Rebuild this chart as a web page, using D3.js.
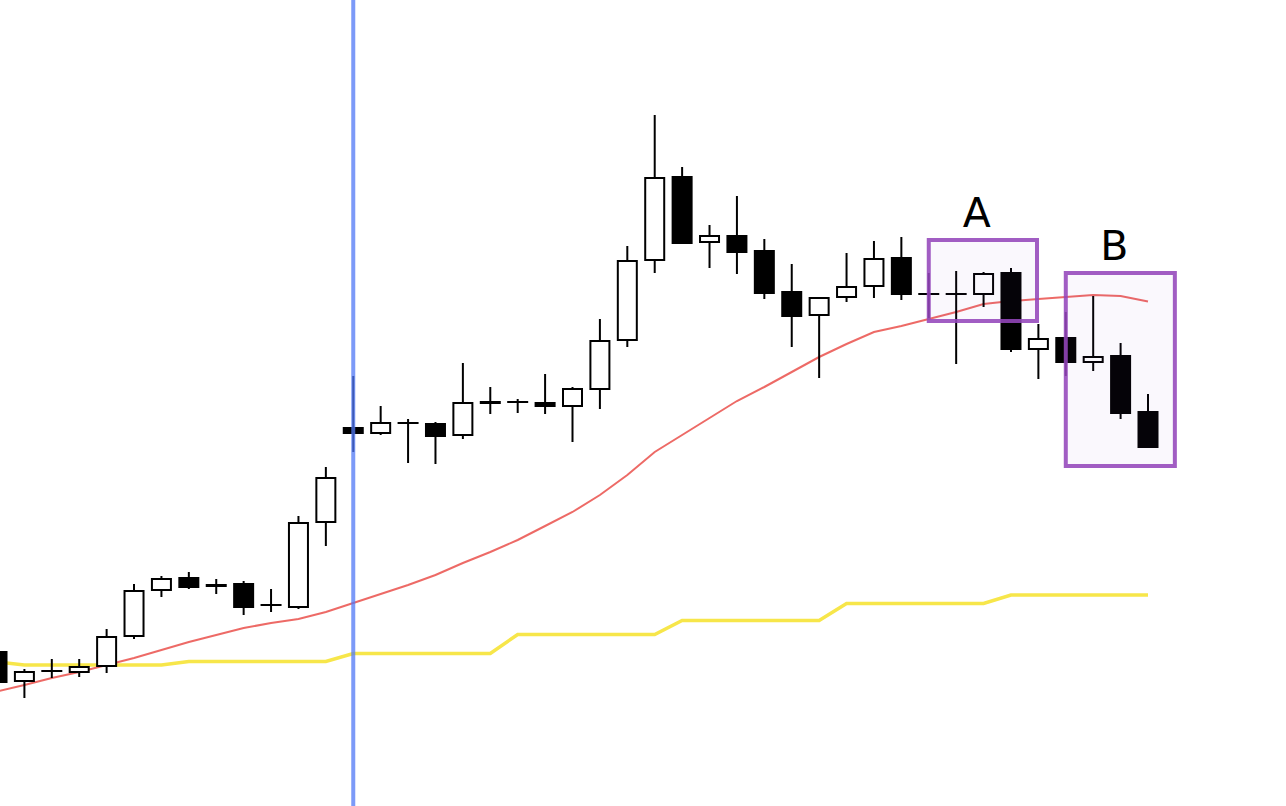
<!DOCTYPE html>
<html>
<head>
<meta charset="utf-8">
<script src="https://cdn.jsdelivr.net/npm/d3@7"></script>
<style>
  html, body { margin: 0; padding: 0; background: #fff; }
  svg { display: block; }
</style>
</head>
<body>
<svg id="canvas"></svg>
<script>
"use strict"

const width = 1286
const height = 806

// candles
const opens  = [154,125,135,134,140,170,216,228,221,222,201,199,284,378,373,383,382,371,403,404,403,400,417,466,546,629,564,570,555,514,491,509,520,548,512,512,512,533,457,468,444,450,394]
const highs  = [156,137,147,147,177,222,230,234,227,225,217,290,339,430,400,387,384,443,419,407,432,419,487,560,691,639,581,610,567,542,509,553,565,569,533,535,534,538,482,494,510,463,412]
const lows   = [122,108,128,129,133,167,209,217,212,191,194,197,260,354,371,343,342,367,392,393,392,364,397,459,533,563,538,532,507,459,428,504,508,506,488,442,499,454,427,430,435,387,358]
const closes = [124,134,135,139,169,215,227,219,220,199,201,283,328,373,383,383,370,403,404,404,400,417,465,545,628,563,570,554,513,490,508,519,547,512,512,512,532,457,467,444,449,393,359]

// moving average (red) and step level (yellow)
const maValues = [114.5,121,128,134,141,148,156,164,171,178,183,187,194,203,212,221,231,243,254,266,280,294,311,331,354,371,388,405,419,434,449,462,474,480,487,494,502,505,507,509,511,510,504.5]
const levelValues = [144,141,141,141,141,141,141,144.5,144.5,144.5,144.5,144.5,144.5,152.5,152.5,152.5,152.5,152.5,152.5,171.5,171.5,171.5,171.5,171.5,171.5,185.5,185.5,185.5,185.5,185.5,185.5,202.5,202.5,202.5,202.5,202.5,202.5,211,211,211,211,211,211]

const markerIndex = 13
const zones = [
  {label: "A", from: 34, to: 37.95, top: 566, bottom: 485},
  {label: "B", from: 39, to: 42.98, top: 533, bottom: 340},
]

const candles = opens.map((o, i) => ({i: i, o: o, h: highs[i], l: lows[i], c: closes[i]}))

const x = d3.scaleLinear().domain([0, candles.length - 1]).range([-3, 1148])
const y = d3.scaleLinear().domain([0, height]).range([height, 0])
const bodyW = 19

const svg = d3.select("#canvas")
  .attr("width", width)
  .attr("height", height)

svg.append("rect")
  .attr("width", width)
  .attr("height", height)
  .attr("fill", "#ffffff")

const line = d3.line()
  .x((d, i) => x(i))
  .y(d => y(d))

svg.append("path")
  .datum(levelValues)
  .attr("d", line)
  .attr("fill", "none")
  .attr("stroke", "#f7e64a")
  .attr("stroke-width", 3.5)

svg.append("path")
  .datum(maValues)
  .attr("d", line)
  .attr("fill", "none")
  .attr("stroke", "#eb5a55")
  .attr("stroke-opacity", 0.9)
  .attr("stroke-width", 2)

const g = svg.append("g")
  .selectAll("g")
  .data(candles)
  .enter().append("g")

g.append("line")
  .attr("x1", d => x(d.i))
  .attr("x2", d => x(d.i))
  .attr("y1", d => y(d.h))
  .attr("y2", d => y(d.l))
  .attr("stroke", "#000")
  .attr("stroke-width", 2)

g.filter(d => Math.abs(d.o - d.c) >= 1)
  .append("rect")
    .attr("x", d => x(d.i) - bodyW / 2)
    .attr("y", d => y(Math.max(d.o, d.c)))
    .attr("width", bodyW)
    .attr("height", d => Math.abs(y(d.o) - y(d.c)))
    .attr("fill", d => d.c > d.o ? "#fff" : "#000")
    .attr("stroke", "#000")
    .attr("stroke-width", 2)

g.filter(d => Math.abs(d.o - d.c) < 1)
  .append("line")
    .attr("x1", d => x(d.i) - bodyW / 2 - 1)
    .attr("x2", d => x(d.i) + bodyW / 2 + 1)
    .attr("y1", d => y(d.o))
    .attr("y2", d => y(d.o))
    .attr("stroke", "#000")
    .attr("stroke-width", 2)

// vertical marker
svg.append("line")
  .attr("x1", x(markerIndex))
  .attr("x2", x(markerIndex))
  .attr("y1", 0)
  .attr("y2", height)
  .attr("stroke", "rgb(80,120,245)")
  .attr("stroke-opacity", 0.75)
  .attr("stroke-width", 4)

// highlight boxes
const z = svg.append("g")
  .selectAll("g")
  .data(zones)
  .enter().append("g")

z.append("rect")
  .attr("x", d => x(d.from))
  .attr("y", d => y(d.top))
  .attr("width", d => x(d.to) - x(d.from))
  .attr("height", d => y(d.bottom) - y(d.top))
  .attr("fill", "rgba(120,80,200,0.04)")
  .attr("stroke", "#9447bb")
  .attr("stroke-opacity", 0.88)
  .attr("stroke-width", 4)

z.append("text")
  .attr("x", d => (x(d.from) + x(d.to)) / 2 - 6)
  .attr("y", d => y(d.top) - 13)
  .attr("text-anchor", "middle")
  .attr("font-family", "DejaVu Sans, sans-serif")
  .attr("font-size", 41)
  .attr("fill", "#000")
  .text(d => d.label)
</script>
</body>
</html>
